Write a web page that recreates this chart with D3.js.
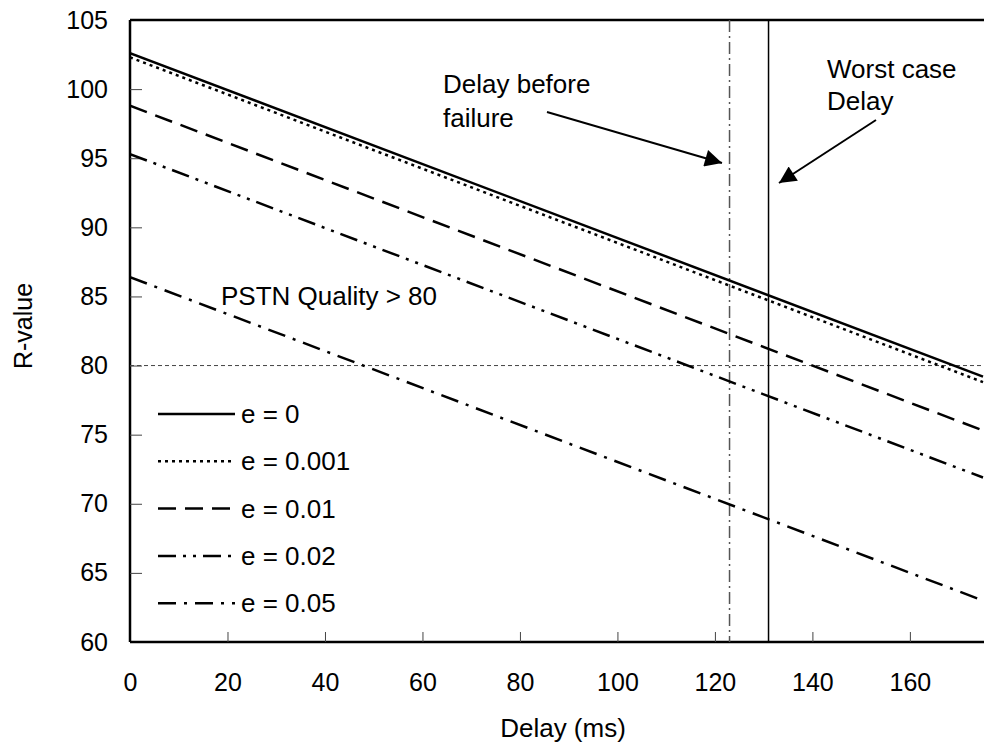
<!DOCTYPE html>
<html>
<head>
<meta charset="utf-8">
<script src="https://cdn.jsdelivr.net/npm/d3@7"></script>
<style>
  body { margin: 0; background: #fff; }
  text { font-family: "Liberation Sans", Arial, sans-serif; fill: #000; }
</style>
</head>
<body>
<div id="chart"></div>
<script>
// delay (ms) at the ends of each line
var delays = [0, 175];
var seriesNames = ["e = 0", "e = 0.001", "e = 0.01", "e = 0.02", "e = 0.05"];
var rValues = [
  [102.6, 79.2],
  [102.3, 78.8],
  [98.8, 75.3],
  [95.3, 71.9],
  [86.4, 63.0]
];
var dashes = ["none", "3,4", "18,9", "18,7,3,7,3,7", "18,8,3,8"];
var xTicks = [0, 20, 40, 60, 80, 100, 120, 140, 160];
var yTicks = [60, 65, 70, 75, 80, 85, 90, 95, 100, 105];
var failureDelay = 123;
var worstDelay = 131;
var pstnLevel = 80;

var width = 984, height = 747;
var plotLeft = 130, plotTop = 20, plotRight = 983, plotBottom = 642;

var svg = d3.select("#chart").append("svg")
  .attr("width", width)
  .attr("height", height);

var x = d3.scaleLinear().domain([0, 175]).range([plotLeft, plotRight]);
var y = d3.scaleLinear().domain([60, 105]).range([plotBottom, plotTop]);

var defs = svg.append("defs");
defs.append("clipPath").attr("id", "plot")
  .append("rect")
  .attr("x", plotLeft).attr("y", plotTop)
  .attr("width", width - plotLeft).attr("height", plotBottom - plotTop);

defs.append("marker")
  .attr("id", "arrow")
  .attr("viewBox", "0 0 10 10")
  .attr("refX", 10).attr("refY", 5)
  .attr("markerWidth", 27).attr("markerHeight", 17)
  .attr("markerUnits", "userSpaceOnUse")
  .attr("orient", "auto")
  .append("path")
  .attr("d", "M0,0 L10,5 L0,10 Z")
  .attr("fill", "#000");

// axes
var yAxis = d3.axisLeft(y).tickValues(yTicks).tickSize(-12).tickPadding(22);
var gy = svg.append("g").attr("transform", "translate(" + plotLeft + ",0)").call(yAxis);
var xAxis = d3.axisBottom(x).tickValues(xTicks).tickSize(-10).tickPadding(31);
var gx = svg.append("g").attr("transform", "translate(0," + plotBottom + ")").call(xAxis);

[gy, gx].forEach(function(g) {
  g.select(".domain").attr("stroke", "#000").attr("stroke-width", 2.5);
  g.selectAll(".tick line").attr("stroke", "#444").attr("stroke-width", 1);
  g.selectAll(".tick text")
    .attr("font-family", "Liberation Sans, Arial, sans-serif")
    .attr("font-size", 25)
    .attr("fill", "#000");
});
gy.selectAll(".tick").filter(function(d) { return d === 105; }).select("line").remove();
gx.selectAll(".tick").filter(function(d) { return d === 0; }).select("line").remove();
gx.select(".domain").attr("d", "M" + plotLeft + ",0H" + width);
gy.select(".domain").attr("d", "M0," + plotTop + "V" + plotBottom);

// top frame line
svg.append("line")
  .attr("x1", plotLeft).attr("x2", width)
  .attr("y1", y(105)).attr("y2", y(105))
  .attr("stroke", "#000").attr("stroke-width", 2.5);

var plot = svg.append("g").attr("clip-path", "url(#plot)");

// PSTN threshold
plot.append("line")
  .attr("x1", plotLeft).attr("x2", width)
  .attr("y1", y(pstnLevel)).attr("y2", y(pstnLevel))
  .attr("stroke", "#444").attr("stroke-width", 1)
  .attr("stroke-dasharray", "4,3");

// delay markers
plot.append("line")
  .attr("x1", x(failureDelay)).attr("x2", x(failureDelay))
  .attr("y1", plotTop).attr("y2", plotBottom)
  .attr("stroke", "#555").attr("stroke-width", 1.5)
  .attr("stroke-dasharray", "12,4,2,4");
plot.append("line")
  .attr("x1", x(worstDelay)).attr("x2", x(worstDelay))
  .attr("y1", plotTop).attr("y2", plotBottom)
  .attr("stroke", "#000").attr("stroke-width", 1.5);

var line = d3.line()
  .x(function(d, i) { return x(delays[i]); })
  .y(function(d) { return y(d); });

plot.selectAll("path.series")
  .data(rValues)
  .enter().append("path")
  .attr("class", "series")
  .attr("d", line)
  .attr("fill", "none")
  .attr("stroke", "#000")
  .attr("stroke-width", 2.5)
  .attr("stroke-dasharray", function(d, i) { return dashes[i]; });

// legend
var legend = svg.selectAll("g.legend")
  .data(seriesNames)
  .enter().append("g")
  .attr("class", "legend")
  .attr("transform", function(d, i) { return "translate(158," + (414 + i * 47.3) + ")"; });
legend.append("line")
  .attr("x1", 0).attr("x2", 77)
  .attr("stroke", "#000").attr("stroke-width", 2.5)
  .attr("stroke-dasharray", function(d, i) { return dashes[i]; });
legend.append("text")
  .attr("x", 83).attr("y", 9)
  .attr("font-size", 26)
  .text(function(d) { return d; });

// annotations
svg.append("text").attr("x", 221).attr("y", 305).attr("font-size", 26).text("PSTN Quality > 80");

var ann1 = svg.append("text").attr("font-size", 26);
ann1.append("tspan").attr("x", 443).attr("y", 93).text("Delay before");
ann1.append("tspan").attr("x", 443).attr("y", 127).text("failure");

var ann2 = svg.append("text").attr("font-size", 26);
ann2.append("tspan").attr("x", 827).attr("y", 78).text("Worst case");
ann2.append("tspan").attr("x", 827).attr("y", 110).text("Delay");

svg.append("line")
  .attr("x1", 547).attr("y1", 112).attr("x2", 722).attr("y2", 163)
  .attr("stroke", "#000").attr("stroke-width", 2)
  .attr("marker-end", "url(#arrow)");
svg.append("line")
  .attr("x1", 876).attr("y1", 120).attr("x2", 779).attr("y2", 183)
  .attr("stroke", "#000").attr("stroke-width", 2)
  .attr("marker-end", "url(#arrow)");

// axis titles
svg.append("text")
  .attr("x", 563).attr("y", 737)
  .attr("text-anchor", "middle")
  .attr("font-size", 26)
  .text("Delay (ms)");
svg.append("text")
  .attr("transform", "translate(32,326) rotate(-90)")
  .attr("text-anchor", "middle")
  .attr("font-size", 25)
  .text("R-value");
</script>
</body>
</html>
